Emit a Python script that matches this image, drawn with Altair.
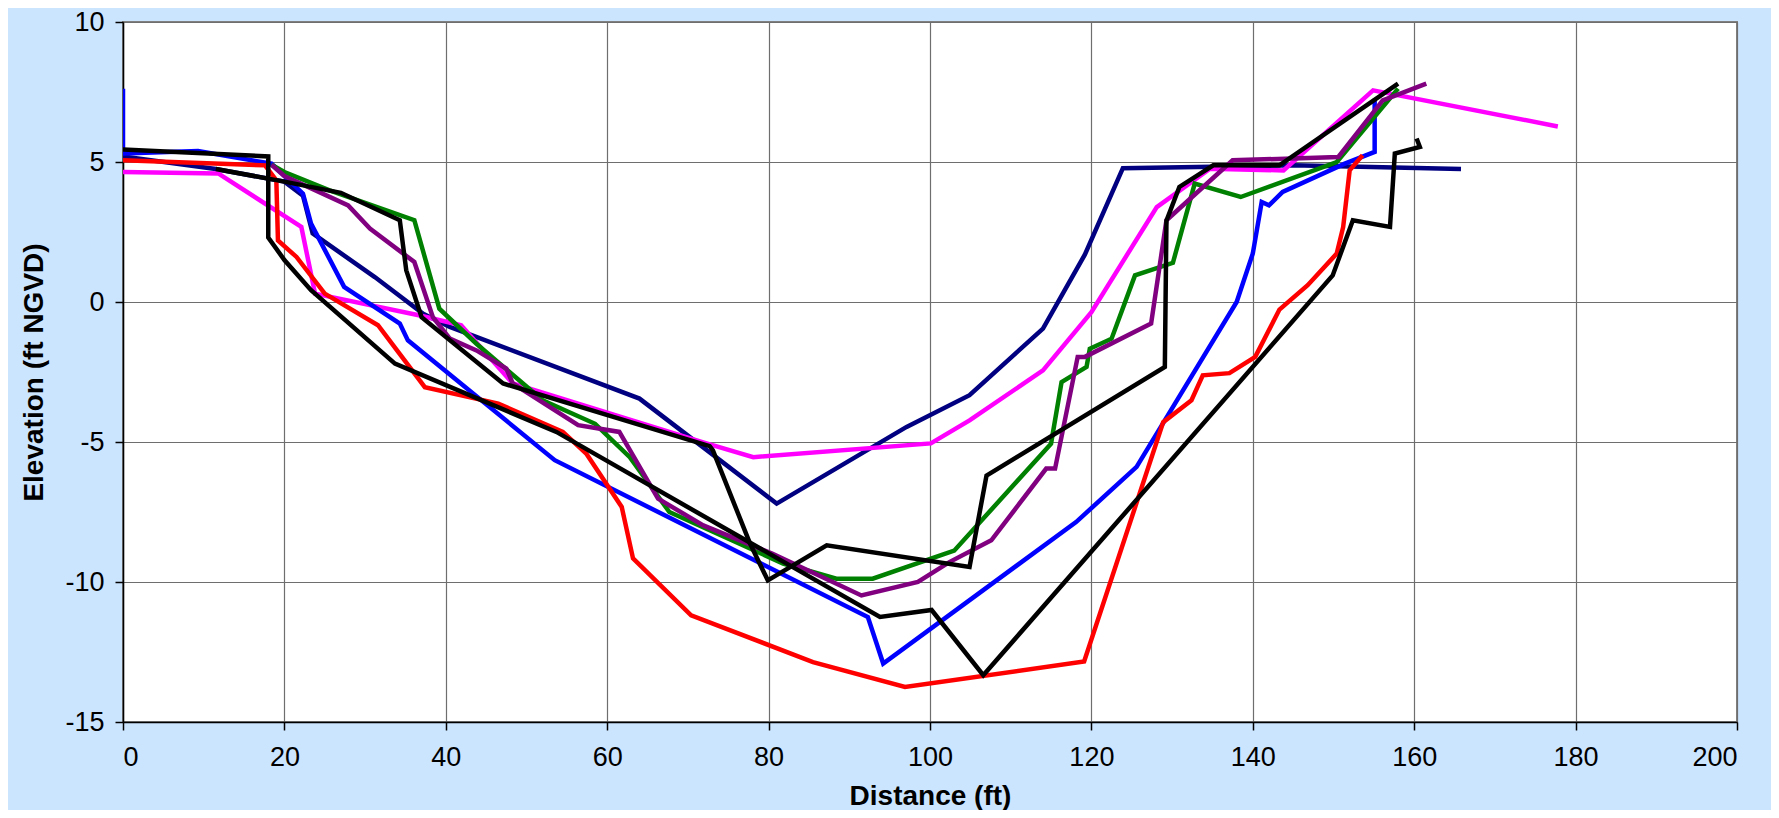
import altair as alt
import pandas as pd

# ---- data ----
navy_x = [0, 11.5, 20, 22.3, 23.5, 31.2, 37.2, 40.5, 64, 81, 97.1, 104.9, 114, 119.2, 123.9, 145, 165.8]
navy_y = [5.2, 4.75, 4.3, 3.8, 2.45, 0.89, -0.42, -0.89, -3.45, -7.2, -4.46, -3.33, -0.95, 1.7, 4.78, 4.88, 4.75]

magenta_x = [0, 11.8, 22.1, 23.8, 36.8, 41.9, 48.3, 72.1, 78.1, 100.1, 104.9, 114, 120, 128.1, 134.7, 143.8, 154.9, 177.8]
magenta_y = [4.64, 4.59, 2.68, 0.3, -0.48, -0.83, -2.91, -5.03, -5.54, -5.05, -4.23, -2.44, -0.36, 3.39, 4.76, 4.7, 7.56, 6.27]

blue_x = [0, 0, 9.3, 18.4, 22.3, 23.3, 27.4, 34.3, 35.3, 53.5, 92.3, 94.2, 118.1, 125.6, 138, 140.0, 141.1, 142.0, 143.7, 151.4, 155.1, 155.1]
blue_y = [7.62, 5.3, 5.39, 4.94, 3.87, 2.8, 0.54, -0.77, -1.37, -5.65, -11.25, -12.91, -7.86, -5.89, 0.0, 1.73, 3.57, 3.45, 3.93, 4.94, 5.36, 7.26]

green_x = [18.4, 20, 25.6, 36.1, 39.2, 43.8, 52, 58.5, 62.8, 67.7, 81.8, 88.4, 92.9, 103, 115, 116.3, 119.4, 119.8, 122.5, 125.4, 130.1, 132.8, 138.5, 150.4, 158]
green_y = [4.9, 4.64, 3.99, 2.92, -0.24, -1.49, -3.51, -4.35, -5.54, -7.5, -9.34, -9.88, -9.88, -8.88, -5.06, -2.86, -2.32, -1.67, -1.31, 0.95, 1.4, 4.23, 3.75, 5.0, 7.62]

red_x = [0, 17.6, 19.0, 19.2, 21.5, 25.0, 31.6, 37.4, 46.5, 54.5, 57.4, 61.8, 63.2, 70.4, 85.5, 96.9, 119.1, 128.9, 132.4, 133.8, 137.1, 140.3, 143.3, 146.8, 150.4, 151.2, 152.0, 153.6]
red_y = [5.06, 4.88, 4.35, 2.2, 1.61, 0.3, -0.83, -3.04, -3.63, -4.64, -5.41, -7.32, -9.16, -11.19, -12.86, -13.75, -12.84, -4.29, -3.51, -2.62, -2.54, -1.96, -0.27, 0.6, 1.73, 2.68, 4.7, 5.24]

purple_x = [18.4, 20, 27.9, 30.6, 36.1, 38.4, 40.5, 43.8, 47.5, 48.3, 56.4, 61.5, 66.3, 71.9, 80.5, 91.5, 98.5, 102.4, 107.6, 114.4, 115.5, 118.3, 119.2, 127.4, 129.3, 137.5, 150.6, 156.1, 161.5]
purple_y = [4.9, 4.5, 3.45, 2.62, 1.43, -0.54, -1.31, -1.73, -2.38, -2.91, -4.4, -4.64, -7.02, -7.98, -8.99, -10.48, -10.0, -9.29, -8.51, -5.95, -5.95, -1.96, -1.96, -0.77, 2.92, 5.06, 5.18, 7.2, 7.8]

black1_x = [11.5, 20, 27, 34.3, 35.1, 37, 47.1, 72.7, 73.1, 77.7, 79.9, 87.2, 104.9, 107, 129.1, 129.3, 130.9, 135.1, 143.3, 158]
black1_y = [4.75, 4.3, 3.9, 2.92, 1.13, -0.54, -2.91, -5.15, -5.3, -8.63, -9.94, -8.69, -9.46, -6.2, -2.32, 2.9, 4.11, 4.88, 4.88, 7.8]

black2_x = [0, 18, 18, 20, 23.3, 33.7, 53.7, 93.8, 100.2, 106.6, 149.9, 152.4, 157, 157.6, 160.7, 160.3]
black2_y = [5.45, 5.2, 2.3, 1.5, 0.42, -2.2, -4.64, -11.25, -11.0, -13.33, 0.95, 2.92, 2.68, 5.3, 5.54, 5.84]

series = [
    ("navy", navy_x, navy_y, "#000080"),
    ("magenta", magenta_x, magenta_y, "#FF00FF"),
    ("blue", blue_x, blue_y, "#0000FF"),
    ("green", green_x, green_y, "#008000"),
    ("red", red_x, red_y, "#FF0000"),
    ("purple", purple_x, purple_y, "#800080"),
    ("black1", black1_x, black1_y, "#000000"),
    ("black2", black2_x, black2_y, "#000000"),
]

x_ticks = list(range(0, 201, 20))
y_ticks = list(range(-15, 11, 5))

x_scale = alt.Scale(domain=[0, 200], nice=False, zero=False)
y_scale = alt.Scale(domain=[-15, 10], nice=False, zero=False)


def x_axis():
    return alt.Axis(values=x_ticks, title="Distance (ft)", grid=True,
                    labelExpr="'' + datum.value",
                    labelPadding=14, titlePadding=12)


def y_axis():
    return alt.Axis(values=y_ticks, title="Elevation (ft NGVD)", grid=True,
                    labelExpr="'' + datum.value",
                    labelPadding=11, titlePadding=16)


layers = []
for name, xs, ys, col in series:
    df = pd.DataFrame({"x": xs, "y": ys, "idx": list(range(len(xs)))})
    layers.append(
        alt.Chart(df).mark_line(color=col, strokeWidth=4.5, strokeJoin="miter", clip=True)
        .encode(
            x=alt.X("x:Q", scale=x_scale, axis=x_axis()),
            y=alt.Y("y:Q", scale=y_scale, axis=y_axis()),
            order="idx:Q",
        )
    )

chart = alt.layer(*layers).properties(
    width=1614, height=700,
    background="#CCE5FF",
    autosize=alt.AutoSizeParams(type="none"),
    padding={"left": 115, "top": 14, "right": 34, "bottom": 88},
).configure_view(
    fill="white", stroke="#808080", strokeWidth=2
).configure_axis(
    domainColor="black", domainWidth=1.5,
    tickColor="black", tickSize=8, tickWidth=1.5,
    gridColor="#6e6e6e", gridWidth=1.2,
    labelFont="Liberation Sans", labelFontSize=27, labelColor="black",
    titleFont="Liberation Sans", titleFontSize=28, titleFontWeight="bold", titleColor="black",
)

chart.save("out.html", embed_options={"renderer": "svg", "actions": False})
